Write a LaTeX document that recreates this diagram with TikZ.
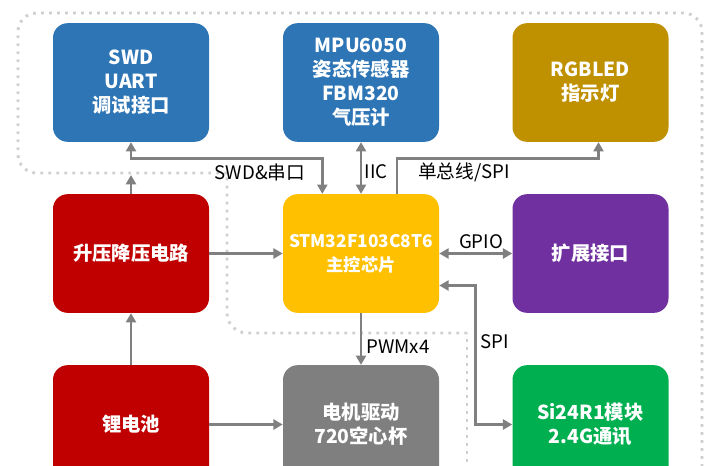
\documentclass[tikz,border=0pt]{standalone}
\usepackage{fontspec}
\setmainfont{Noto Sans CJK SC}
\usepackage{xcolor}
\usetikzlibrary{arrows.meta}
\definecolor{boxblue}{HTML}{2E75B6}
\definecolor{boxgold}{HTML}{BF9000}
\definecolor{boxred}{HTML}{C00000}
\definecolor{boxyellow}{HTML}{FFC000}
\definecolor{boxpurple}{HTML}{7030A0}
\definecolor{boxgray}{HTML}{7F7F7F}
\definecolor{boxgreen}{HTML}{00B050}
\definecolor{linegray}{HTML}{808080}
\definecolor{fencegray}{HTML}{CFCFCF}
\tikzset{>={Triangle[length=7pt,width=7.5pt]}}
\tikzset{
	block/.style={
			rounded corners=11pt, minimum width=117pt, minimum height=89pt,
			align=center, text=white, font=\fontsize{14.5}{18}\selectfont\bfseries},
	link/.style={draw=linegray, line width=2.2pt},
	tag/.style={font=\fontsize{14}{16}\selectfont, inner sep=1pt},
	fence/.style={draw=fencegray, line width=2.2pt, dash pattern=on 2pt off 4pt}
}

\begin{document}
\begin{tikzpicture}[x=0.75pt,y=-0.75pt]
			\useasboundingbox (0,0) rectangle (720,465);
			\clip (0,0) rectangle (720,465);

			% Dotted frame
			\draw [fence] (467,470) -- (467,333);
			\draw [fence, rounded corners=15pt] (467,333) -- (227,333) -- (227,173);
			\draw [fence, rounded corners=14pt] (227,173) -- (18,173) -- (18,13) -- (702,13) -- (702,470);

			% Blocks
			\node [block, fill=boxblue] (swd) at (131,82.5) {SWD\\UART\\调试接口};
			\node [block, fill=boxblue] (mpu) at (361,82.5) {MPU6050\\姿态传感器\\FBM320\\气压计};
			\node [block, fill=boxgold] (rgb) at (590.5,82.5) {RGBLED\\指示灯};
			\node [block, fill=boxred] (boost) at (131,253.5) {升压降压电路};
			\node [block, fill=boxyellow, font=\fontsize{13}{18}\selectfont\bfseries] (stm) at (361,253.5) {STM32F103C8T6\\主控芯片};
			\node [block, fill=boxpurple] (ext) at (590.5,253.5) {扩展接口};
			\node [block, fill=boxred] (bat) at (131,424.5) {锂电池};
			\node [block, fill=boxgray] (motor) at (361,424.5) {电机驱动\\720空心杯};
			\node [block, fill=boxgreen] (rf) at (590.5,424.5) {Si24R1模块\\2.4G通讯};
			\coordinate (pwr) at (131,175);

			% Arrows
			\draw [link, <->] (swd.south) -- ++(0,16) -| ([xshift=-29pt]stm.north);
			\draw [link, <->] (mpu) -- (stm);
			\draw [link, ->] ([xshift=27pt]stm.north) -- ++(0,-35) -| ([xshift=6pt]rgb.south);
			\draw [link, <->] (stm) -- (ext);
			\draw [link, <->] ([yshift=-24pt]stm.east) -- ++(36,0) |- (rf.west);
			\draw [link, ->] (stm) -- (motor);
			\draw [link, ->] (boost) -- (stm);
			\draw [link, ->] (boost.north) -- (pwr);
			\draw [link, ->] (bat) -- (boost);
			\draw [link, ->] (bat) -- (motor);

			% Labels
			\node [tag] (lswd) at (260,172) {SWD\&串口};
			\node [tag] (liic) at (376,172) {IIC};
			\node [tag] (lone) at (464,172) {单总线/SPI};
			\node [tag] (lgpio) at (481,242) {GPIO};
			\node [tag] (lspi) at (495,342) {SPI};
			\node [tag] (lpwm) at (398,347) {PWMx4};
		\end{tikzpicture}
\end{document}
